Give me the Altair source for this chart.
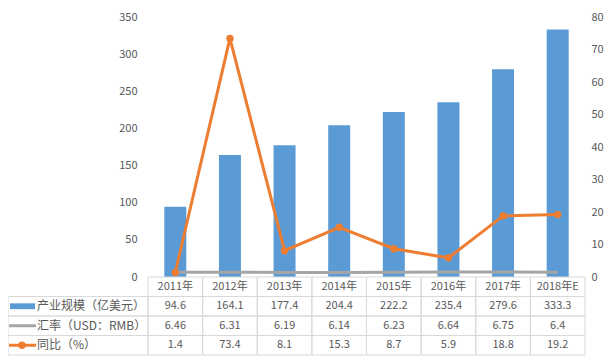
import altair as alt
import pandas as pd

years = ["2011年", "2012年", "2013年", "2014年", "2015年", "2016年", "2017年", "2018年E"]
industry_scale = [94.6, 164.1, 177.4, 204.4, 222.2, 235.4, 279.6, 333.3]
exchange_rate = [6.46, 6.31, 6.19, 6.14, 6.23, 6.64, 6.75, 6.4]
yoy_growth = [1.4, 73.4, 8.1, 15.3, 8.7, 5.9, 18.8, 19.2]
series_names = ["产业规模（亿美元）", "汇率（USD：RMB）", "同比（%）"]
left_ticks = [0, 50, 100, 150, 200, 250, 300, 350]
right_ticks = [0, 10, 20, 30, 40, 50, 60, 70, 80]

BLUE = "#5B9BD5"
GRAY = "#A5A5A5"
ORANGE = "#ED7D31"
BORDER = "#D9D9D9"
TEXT = "#595959"
FONT = "Noto Sans CJK SC"

main = pd.DataFrame({"year": years, "scale": industry_scale,
                     "rate": exchange_rate, "yoy": yoy_growth})

# table (row 0 = header)
rows = []
for i, y in enumerate(years):
    rows.append({"year": y, "row": 0, "label": y})
    rows.append({"year": y, "row": 1, "label": str(industry_scale[i])})
    rows.append({"year": y, "row": 2, "label": str(exchange_rate[i])})
    rows.append({"year": y, "row": 3, "label": str(yoy_growth[i])})
table = pd.DataFrame(rows)
table["row_end"] = table["row"] + 1
table["row_mid"] = table["row"] + 0.5

legend = pd.DataFrame({"name": series_names, "row": [1, 2, 3]})
legend["row_end"] = legend["row"] + 1
legend["row_mid"] = legend["row"] + 0.5
legend["sw_lo"] = legend["row"] + 0.35
legend["sw_hi"] = legend["row"] + 0.65

xenc = alt.X("year:N", sort=years, axis=None,
             scale=alt.Scale(domain=years, paddingInner=0, paddingOuter=0))

left_axis = alt.Axis(values=left_ticks, title=None, grid=False, domain=False,
                     ticks=False, tickSize=0, labelPadding=11,
                     labelFont=FONT, labelFontSize=11, labelColor=TEXT)
right_axis = alt.Axis(values=right_ticks, title=None, grid=False, domain=False,
                      ticks=False, tickSize=0, labelPadding=6, orient="right",
                      labelFont=FONT, labelFontSize=11, labelColor=TEXT)
lscale = alt.Scale(domain=[0, 350], nice=False)
rscale = alt.Scale(domain=[0, 80], nice=False)

bars = alt.Chart(main).mark_bar(size=22, color=BLUE).encode(
    x=xenc, y=alt.Y("scale:Q", scale=lscale, axis=left_axis))
gray = alt.Chart(main).mark_line(color=GRAY, strokeWidth=3).encode(
    x=xenc, y=alt.Y("rate:Q", scale=lscale, axis=left_axis))
left_layer = alt.layer(bars, gray)

oline = alt.Chart(main).mark_line(color=ORANGE, strokeWidth=3).encode(
    x=xenc, y=alt.Y("yoy:Q", scale=rscale, axis=right_axis))
opts = alt.Chart(main).mark_point(filled=True, size=55, color=ORANGE, opacity=1).encode(
    x=xenc, y=alt.Y("yoy:Q", scale=rscale, axis=right_axis))
right_layer = alt.layer(oline, opts)

tscale = alt.Scale(domain=[0, 4], range=[260, 338], nice=False, zero=False)

cells = alt.Chart(table).mark_rect(fillOpacity=0, stroke=BORDER, strokeWidth=1).encode(
    x=xenc, y=alt.Y("row:Q", scale=tscale, axis=None), y2="row_end:Q")
cell_text = alt.Chart(table).mark_text(font=FONT, fontSize=11, color=TEXT,
                                       baseline="middle", align="center").encode(
    x=xenc, y=alt.Y("row_mid:Q", scale=tscale, axis=None), text="label:N")
leg_cells = alt.Chart(legend).mark_rect(fillOpacity=0, stroke=BORDER, strokeWidth=1).encode(
    x=alt.value(-140), x2=alt.value(0),
    y=alt.Y("row:Q", scale=tscale, axis=None), y2="row_end:Q")
leg_text = alt.Chart(legend).mark_text(font=FONT, fontSize=12, color=TEXT,
                                       baseline="middle", align="left").encode(
    x=alt.value(-111), y=alt.Y("row_mid:Q", scale=tscale, axis=None), text="name:N")
sw_bar = alt.Chart(legend).transform_filter(alt.datum.row == 1).mark_rect(color=BLUE).encode(
    x=alt.value(-138), x2=alt.value(-113),
    y=alt.Y("sw_lo:Q", scale=tscale, axis=None), y2="sw_hi:Q")
sw_gray = alt.Chart(legend).transform_filter(alt.datum.row == 2).mark_rule(
    color=GRAY, strokeWidth=3).encode(
    x=alt.value(-139), x2=alt.value(-112),
    y=alt.Y("row_mid:Q", scale=tscale, axis=None))
sw_orange = alt.Chart(legend).transform_filter(alt.datum.row == 3).mark_rule(
    color=ORANGE, strokeWidth=3).encode(
    x=alt.value(-139), x2=alt.value(-112),
    y=alt.Y("row_mid:Q", scale=tscale, axis=None))
sw_dot = alt.Chart(legend).transform_filter(alt.datum.row == 3).mark_point(
    filled=True, size=55, color=ORANGE, opacity=1).encode(
    x=alt.value(-126), y=alt.Y("row_mid:Q", scale=tscale, axis=None))
table_layer = alt.layer(cells, cell_text, leg_cells, leg_text, sw_bar, sw_gray, sw_orange, sw_dot)

chart = alt.layer(left_layer, right_layer, table_layer).resolve_scale(
    y="independent"
).properties(
    width=437, height=260,
    autosize=alt.AutoSizeParams(type="none"),
    padding={"left": 140, "top": 9, "right": 19, "bottom": 79},
    background="white",
).configure_view(stroke=None)

chart.save("out.html", embed_options={"renderer": "svg", "actions": False})
